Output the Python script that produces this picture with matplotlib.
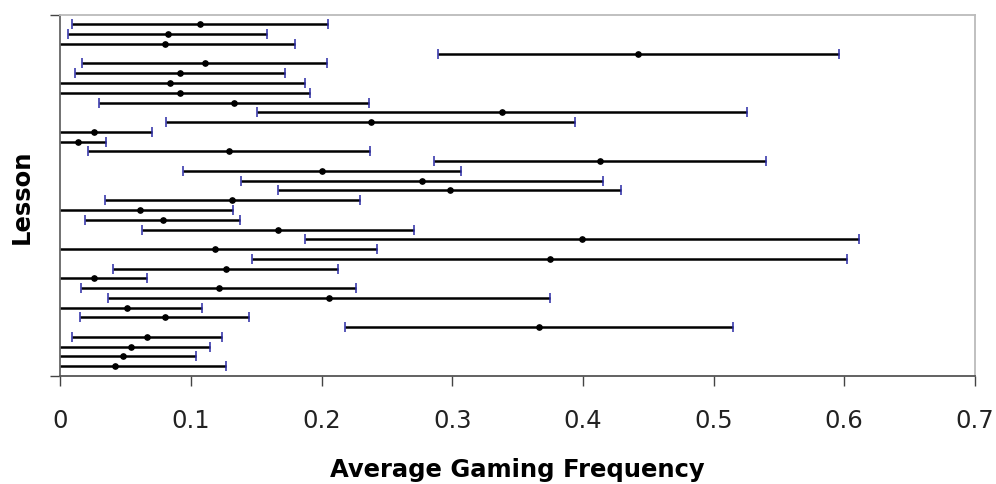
import matplotlib
matplotlib.use("Agg")
from matplotlib import pyplot as plt

# lessons listed top to bottom as they appear on the chart
lessons = list(range(36, 0, -1))
avg_freq = [0.1065, 0.082, 0.0804, 0.4424, 0.1103, 0.0917, 0.0837, 0.0917,
            0.133, 0.3383, 0.2377, 0.026, 0.0135, 0.1292, 0.4128, 0.2004,
            0.2767, 0.2979, 0.1315, 0.061, 0.0784, 0.1665, 0.3993, 0.1182,
            0.3745, 0.1266, 0.026, 0.1213, 0.2055, 0.0508, 0.0797, 0.3666,
            0.0664, 0.0541, 0.0477, 0.0416]
err = [0.098, 0.076, 0.099, 0.1537, 0.0935, 0.0804, 0.1037, 0.0993,
       0.1034, 0.1875, 0.1566, 0.0442, 0.0215, 0.1078, 0.127, 0.1065,
       0.1387, 0.1315, 0.0977, 0.071, 0.0593, 0.1038, 0.2124, 0.1238,
       0.2279, 0.0861, 0.0401, 0.1052, 0.1691, 0.0574, 0.0648, 0.1485,
       0.0574, 0.0605, 0.0559, 0.0855]
xticks = [0, 0.1, 0.2, 0.3, 0.4, 0.5, 0.6, 0.7]

plt.rcParams['font.family'] = ['DejaVu Sans']

fig = plt.figure(figsize=(9.96, 4.85), dpi=100)
ax = fig.add_axes([0.0607, 0.2227, 0.918, 0.745])

line, caps, bars = ax.errorbar(avg_freq, lessons, xerr=err, fmt='o', color='black',
                               ms=3.8, elinewidth=1.8, capsize=3.6, capthick=1.1,
                               ecolor='black')
for c in caps:
    c.set_markeredgecolor('#2a2aa6')  # caps are blue in the original

ax.set_xlim(0, 0.7)
ax.set_ylim(0, 37)
ax.set_xticks(xticks)
ax.set_xticklabels([f"{t:g}" for t in xticks])
ax.set_yticks([0, 37])
ax.set_yticklabels([])

ax.tick_params(axis='x', direction='out', length=7, width=1, color='#444444',
               labelsize=17.5, pad=16, labelcolor='#222222')
ax.tick_params(axis='y', direction='out', length=7, width=1, color='#444444')

ax.spines['left'].set_color('#666666')
ax.spines['bottom'].set_color('#555555')
ax.spines['top'].set_color('#bbbbbb')
ax.spines['right'].set_color('#bbbbbb')
for s in ax.spines.values():
    s.set_linewidth(1.3)

ax.set_xlabel("Average Gaming Frequency", fontsize=17.5, fontweight='bold', labelpad=18)
ax.set_ylabel("Lesson", fontsize=17.5, fontweight='bold', labelpad=9)

fig.savefig("out.png", dpi=100)
